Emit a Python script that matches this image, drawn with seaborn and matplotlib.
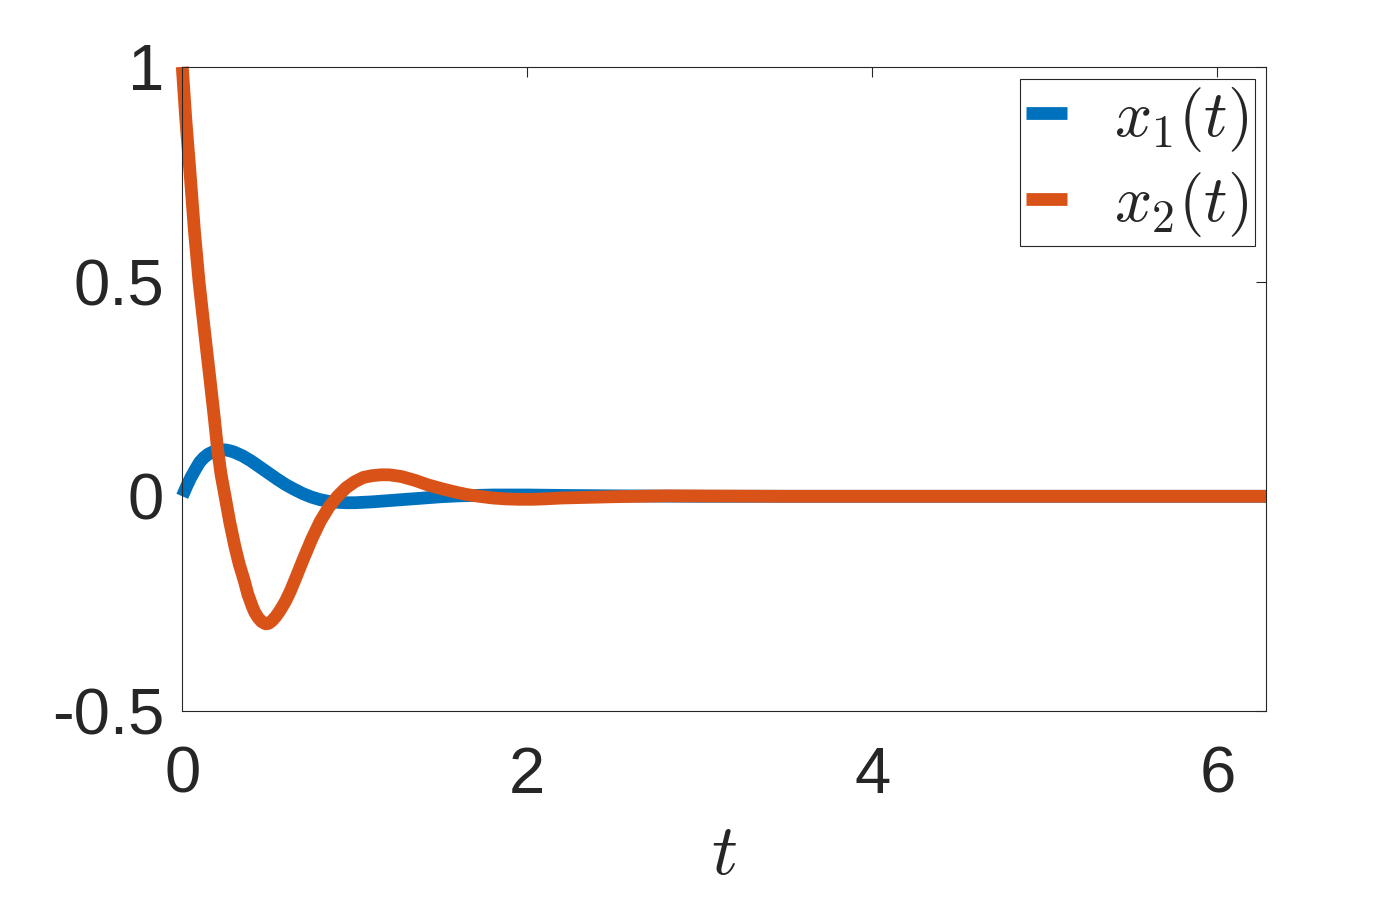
import pandas as pd
import matplotlib
matplotlib.use('Agg')
import matplotlib.pyplot as plt
import seaborn as sns

# 数据
t1 = [0, 0.025, 0.05, 0.075, 0.1, 0.125, 0.15, 0.175, 0.2, 0.225, 0.25, 0.275,
      0.3, 0.35, 0.4, 0.45, 0.5, 0.55, 0.6, 0.65, 0.7, 0.75, 0.8, 0.85, 0.9,
      0.95, 1.0, 1.1, 1.2, 1.3, 1.4, 1.5, 1.6, 1.8, 2.0, 2.2, 2.5, 3.0, 4.0,
      5.0, 6.283]
x1 = [0, 0.023, 0.044, 0.062, 0.079, 0.090, 0.098, 0.103, 0.106, 0.108, 0.108,
      0.106, 0.103, 0.094, 0.082, 0.068, 0.054, 0.040, 0.027, 0.016, 0.006,
      -0.002, -0.008, -0.012, -0.014, -0.015, -0.015, -0.013, -0.010, -0.007,
      -0.004, -0.001, 0.001, 0.003, 0.003, 0.002, 0.001, 0, 0, 0, 0]

t2 = [0, 0.02, 0.045, 0.07, 0.097, 0.13, 0.161, 0.185, 0.205, 0.225, 0.248,
      0.275, 0.305, 0.33, 0.358, 0.38, 0.406, 0.42, 0.44, 0.46, 0.483, 0.50,
      0.52, 0.54, 0.56, 0.58, 0.6, 0.625, 0.653, 0.7, 0.75, 0.8, 0.85, 0.9,
      0.95, 1.0, 1.05, 1.1, 1.15, 1.2, 1.27, 1.35, 1.42, 1.5, 1.58, 1.65, 1.72,
      1.8, 1.87, 1.95, 2.03, 2.1, 2.2, 2.3, 2.5, 2.8, 3.5, 6.283]
x2 = [1, 0.88, 0.753, 0.62, 0.5, 0.38, 0.271, 0.185, 0.108, 0.05, 0, -0.06,
      -0.117, -0.158, -0.195, -0.228, -0.257, -0.270, -0.283, -0.292, -0.297,
      -0.296, -0.290, -0.281, -0.270, -0.257, -0.243, -0.222, -0.195, -0.148,
      -0.10, -0.058, -0.025, 0.0, 0.02, 0.034, 0.044, 0.048, 0.050, 0.050,
      0.046, 0.037, 0.027, 0.018, 0.010, 0.004, 0.0, -0.004, -0.006, -0.007,
      -0.007, -0.006, -0.004, -0.003, -0.001, 0.001, 0, 0]

labels = [r'$x_1(t)$', r'$x_2(t)$']
colors = ['#0072BD', '#D95319']

sns.set_style('white')
plt.rcParams['font.family'] = ['Liberation Sans', 'DejaVu Sans']
plt.rcParams['mathtext.fontset'] = 'cm'
plt.rcParams['axes.unicode_minus'] = False

df1 = pd.DataFrame({'t': t1, 'x': x1})
df2 = pd.DataFrame({'t': t2, 'x': x2})

fig = plt.figure(figsize=(14, 9), dpi=100)
ax = fig.add_axes([0.1302, 0.21, 0.7743, 0.7157])

sns.lineplot(data=df1, x='t', y='x', ax=ax, color=colors[0], linewidth=9.2,
             label=labels[0], sort=False, clip_on=False,
             solid_capstyle='butt', solid_joinstyle='round')
sns.lineplot(data=df2, x='t', y='x', ax=ax, color=colors[1], linewidth=9.2,
             label=labels[1], sort=False, clip_on=False,
             solid_capstyle='butt', solid_joinstyle='round')

ax.set_xlim(0, 6.283)
ax.set_ylim(-0.5, 1)
ax.set_xticks([0, 2, 4, 6])
ax.set_xticklabels(['0', '2', '4', '6'])
ax.set_yticks([-0.5, 0, 0.5, 1])
ax.set_yticklabels(['-0.5', '0', '0.5', '1'])
ax.tick_params(axis='both', direction='in', top=True, right=True, length=7.2,
               width=0.8, labelsize=47, colors='#262626')
ax.tick_params(axis='x', pad=25)
ax.tick_params(axis='y', pad=13)
for s in ax.spines.values():
    s.set_color('#262626')
    s.set_linewidth(0.8)

ax.set_xlabel(r'$t$', fontsize=52, labelpad=12, color='#262626')
ax.set_ylabel('')

leg = ax.legend(loc='upper right', fontsize=47, frameon=True, fancybox=False,
                edgecolor='#262626', framealpha=1, handlelength=0.62,
                handletextpad=0.72, borderpad=0.1, labelspacing=0.25,
                borderaxespad=0.18)
leg.get_frame().set_linewidth(0.8)

fig.savefig('out.png', dpi=100)
